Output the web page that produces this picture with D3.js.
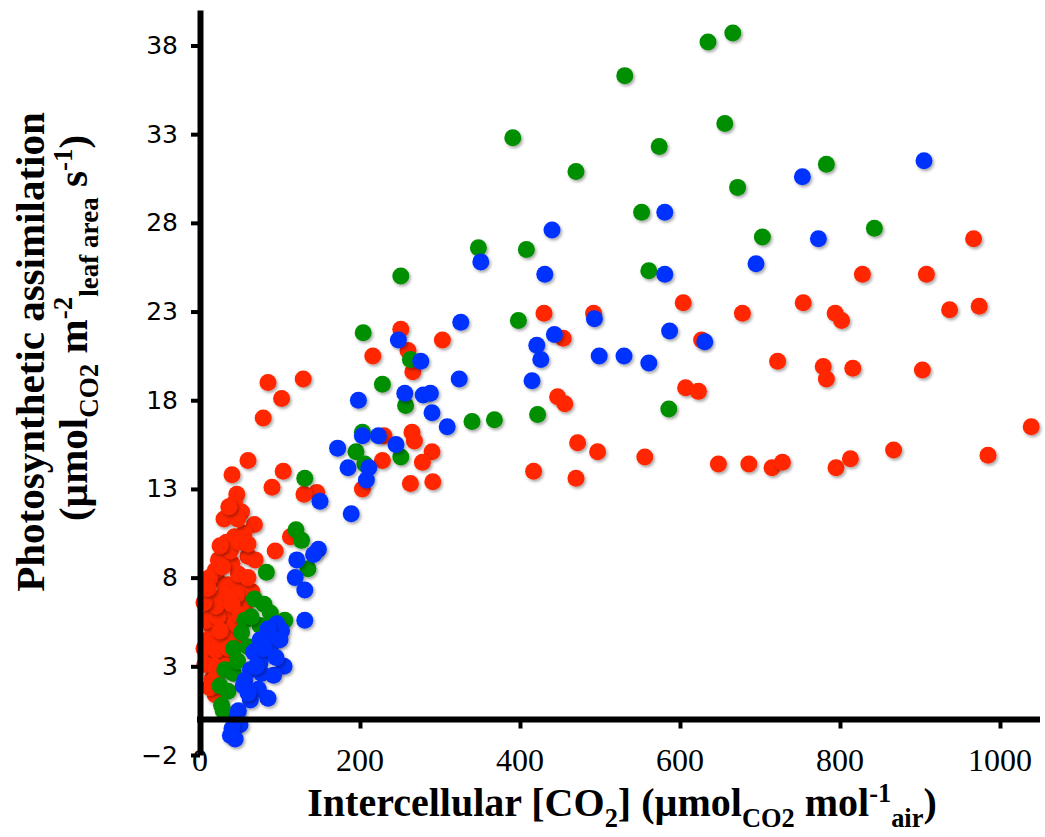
<!DOCTYPE html>
<html>
<head>
<meta charset="utf-8">
<script src="https://cdn.jsdelivr.net/npm/d3@7"></script>
<style>
  html, body { margin: 0; padding: 0; background: #fff; }
  svg { display: block; }
</style>
</head>
<body>
<div id="chart"></div>
<script>
// values: [intercellular CO2, assimilation]
const redPoints = [
  [967, 27.1], [828, 25.1], [908, 25.1], [678, 22.9], [754, 23.5], [794, 22.9], [802, 22.5],
  [937, 23.1], [974, 23.3], [722, 20.2], [779, 19.9], [783, 19.2], [816, 19.8], [903, 19.7],
  [1039, 16.5], [867, 15.2], [985, 14.9], [686, 14.4], [715, 14.2], [728, 14.5], [795, 14.2],
  [813, 14.7], [604, 23.5], [430, 22.9], [492, 22.9], [454, 21.5], [627, 21.4], [447, 18.2],
  [456, 17.8], [607, 18.7], [623, 18.5], [472, 15.6], [497, 15.1], [556, 14.8], [417, 14.0],
  [470, 13.6], [648, 14.4], [251, 22.0], [303, 21.4], [216, 20.5], [260, 20.8], [266, 19.6],
  [230, 16.0], [265, 16.2], [268, 15.7], [290, 15.1], [278, 14.5], [228, 14.6], [203, 13.0],
  [263, 13.3], [291, 13.4], [146, 12.8], [85, 19.0], [129, 19.2], [102, 18.1], [79, 17.0],
  [60, 14.6], [40, 13.8], [104, 14.0], [90, 13.1], [130, 12.7], [46, 12.7], [43, 12.2],
  [52, 11.7], [68, 11.0], [30, 11.3], [113, 10.3], [43, 10.3], [33, 10.0], [94, 9.5],
  [60, 9.2], [69, 9.0], [23, 9.0], [40, 8.8], [21, 7.9], [35, 7.6], [52, 7.5], [65, 7.2],
  [13, 6.9], [29, 6.7], [52, 6.8], [15, 6.2], [35, 6.0], [56, 6.2], [15, 5.2], [33, 5.2],
  [10, 4.5], [25, 4.5], [44, 4.5], [8, 3.6], [27, 3.6], [13, 3.2], [15, 2.3], [19, 1.4],
  [19, 8.4], [48, 8.2], [8, 5.6], [22, 5.8], [44, 5.4], [5, 4.0], [20, 3.9], [6, 3.1],
  [30, 7.1], [45, 7.0], [25, 2.8], [38, 9.5], [55, 10.5], [47, 11.3], [20, 6.4], [60, 8.0],
  [12, 8.0], [28, 8.6], [5, 6.6], [40, 6.5], [25, 5.0], [50, 5.9], [36, 4.0], [18, 3.0],
  [20, 2.4], [32, 3.0], [12, 1.8], [50, 10.0], [25, 9.8], [60, 9.9], [36, 12.0], [10, 7.4]
];
const greenPoints = [
  [635, 38.2], [666, 38.7], [531, 36.3], [656, 33.6], [391, 32.8], [574, 32.3], [470, 30.9],
  [672, 30.0], [783, 31.3], [552, 28.6], [703, 27.2], [843, 27.7], [408, 26.5], [561, 25.3],
  [348, 26.6], [251, 25.0], [398, 22.5], [422, 17.2], [586, 17.5], [204, 21.8], [263, 20.3],
  [228, 18.9], [257, 17.7], [340, 16.8], [368, 16.9], [203, 16.2], [195, 15.1], [251, 14.8],
  [206, 14.4], [131, 13.6], [120, 10.7], [127, 10.1], [135, 8.5], [83, 8.3], [68, 6.8],
  [80, 6.5], [88, 6.0], [106, 5.6], [56, 5.6], [52, 4.9], [42, 4.0], [60, 4.1], [31, 2.8],
  [42, 2.6], [25, 1.9], [35, 1.6], [27, 0.8], [29, 0.5], [75, 5.3], [47, 3.3], [64, 5.8]
];
const bluePoints = [
  [905, 31.5], [753, 30.6], [581, 28.6], [773, 27.1], [695, 25.7], [440, 27.6], [431, 25.1],
  [581, 25.1], [493, 22.6], [443, 21.7], [421, 21.1], [426, 20.3], [499, 20.5], [530, 20.5],
  [561, 20.1], [587, 21.9], [631, 21.3], [415, 19.1], [351, 25.8], [326, 22.4], [248, 21.4],
  [276, 20.2], [324, 19.2], [256, 18.4], [279, 18.3], [288, 18.4], [198, 18.0], [290, 17.3],
  [309, 16.5], [203, 16.0], [223, 16.0], [245, 15.5], [172, 15.3], [211, 14.2], [185, 14.2],
  [208, 13.5], [150, 12.3], [189, 11.6], [148, 9.6], [142, 9.3], [121, 9.0], [119, 8.0],
  [131, 7.3], [131, 5.6], [96, 5.4], [102, 5.0], [85, 5.1], [75, 4.5], [90, 4.3], [100, 4.5],
  [67, 3.8], [85, 3.8], [105, 3.0], [75, 3.2], [63, 2.8], [56, 2.2], [77, 2.6], [92, 2.5],
  [54, 1.9], [73, 1.7], [85, 1.2], [63, 1.1], [48, 0.5], [46, 0.1], [50, -0.3], [40, -0.5],
  [38, -0.9], [44, -1.1], [80, 4.0], [70, 3.0], [95, 3.5], [60, 1.5]
];
const xTicks = [200, 400, 600, 800, 1000];
const xTickLabels = [0, 200, 400, 600, 800, 1000];
const yTicks = [-2, 3, 8, 13, 18, 23, 28, 33, 38];

const W = 1045, H = 837;
const titleFont = '"Liberation Serif", "DejaVu Serif", serif';

const svg = d3.select('#chart').append('svg')
  .attr('width', W)
  .attr('height', H);

// soft shadow under each dot
const defs = svg.append('defs');
defs.append('filter')
  .attr('id', 'dotShadow')
  .attr('x', '-50%').attr('y', '-50%')
  .attr('width', '200%').attr('height', '200%')
  .append('feDropShadow')
  .attr('dx', 1.5).attr('dy', 2)
  .attr('stdDeviation', 1.5)
  .attr('flood-color', '#000')
  .attr('flood-opacity', 0.35);

const x = d3.scaleLinear().domain([0, 1050]).range([200, 1040]);
const y = d3.scaleLinear().domain([-2, 40]).range([755, 10]);

// dots: red first, then green, blue on top
const series = [
  { pts: redPoints, color: '#ff2600' },
  { pts: greenPoints, color: '#008f00' },
  { pts: bluePoints, color: '#0433ff' }
];
const dots = svg.append('g').attr('class', 'dots');
series.forEach(s => {
  dots.append('g')
    .selectAll('circle')
    .data(s.pts)
    .join('circle')
    .attr('cx', d => x(d[0]))
    .attr('cy', d => y(d[1]))
    .attr('r', 8.5)
    .attr('fill', s.color)
    .attr('filter', 'url(#dotShadow)');
});

// y axis
const yAxis = svg.append('g')
  .attr('transform', `translate(${x(0)},0)`)
  .call(d3.axisLeft(y).tickValues(yTicks).tickSize(9).tickSizeOuter(0).tickPadding(13));
yAxis.select('.domain').attr('stroke', '#000').attr('stroke-width', 6);
yAxis.selectAll('.tick line').attr('stroke', '#000').attr('stroke-width', 4);
yAxis.selectAll('.tick text')
  .attr('font-family', '"DejaVu Sans", Verdana, sans-serif')
  .attr('font-size', 25)
  .attr('fill', '#000');

// x axis crosses at y = 0, labels sit at the bottom
const xAxis = svg.append('g')
  .attr('transform', `translate(0,${y(0)})`)
  .call(d3.axisBottom(x).tickValues(xTicks).tickSize(9).tickSizeOuter(0).tickFormat(''));
xAxis.select('.domain')
  .attr('d', `M${x(0) - 3},0H${x(1050)}`)
  .attr('stroke', '#000').attr('stroke-width', 6);
xAxis.selectAll('.tick line').attr('stroke', '#000').attr('stroke-width', 4);

svg.append('g')
  .selectAll('text')
  .data(xTickLabels)
  .join('text')
  .attr('x', d => x(d))
  .attr('y', 771)
  .attr('text-anchor', 'middle')
  .attr('font-family', titleFont)
  .attr('font-size', 32)
  .text(d => d);

// helper for text with sub/superscripts
function richText(sel, runs, size) {
  let cur = 0;
  runs.forEach(r => {
    const target = r.sub ? size * 0.28 : r.sup ? -size * 0.36 : 0;
    sel.append('tspan')
      .attr('dy', target - cur)
      .attr('font-size', r.sub || r.sup ? size * 0.66 : size)
      .text(r.t);
    cur = target;
  });
}

const xTitle = svg.append('text')
  .attr('x', 622)
  .attr('y', 816)
  .attr('text-anchor', 'middle')
  .attr('font-family', titleFont)
  .attr('font-weight', 'bold');
richText(xTitle, [
  { t: 'Intercellular [CO' }, { t: '2', sub: true }, { t: '] (µmol' },
  { t: 'CO2', sub: true }, { t: ' mol' }, { t: '-1', sup: true },
  { t: 'air', sub: true }, { t: ')' }
], 40);

const yTitle1 = svg.append('text')
  .attr('transform', 'translate(44,352) rotate(-90)')
  .attr('text-anchor', 'middle')
  .attr('font-family', titleFont)
  .attr('font-weight', 'bold');
richText(yTitle1, [{ t: 'Photosynthetic assimilation' }], 41);

const yTitle2 = svg.append('text')
  .attr('transform', 'translate(87,328) rotate(-90)')
  .attr('text-anchor', 'middle')
  .attr('font-family', titleFont)
  .attr('font-weight', 'bold');
richText(yTitle2, [
  { t: '(µmol' }, { t: 'CO2', sub: true }, { t: ' m' }, { t: '-2', sup: true },
  { t: 'leaf area', sub: true }, { t: ' s' }, { t: '-1', sup: true }, { t: ')' }
], 41);
</script>
</body>
</html>
